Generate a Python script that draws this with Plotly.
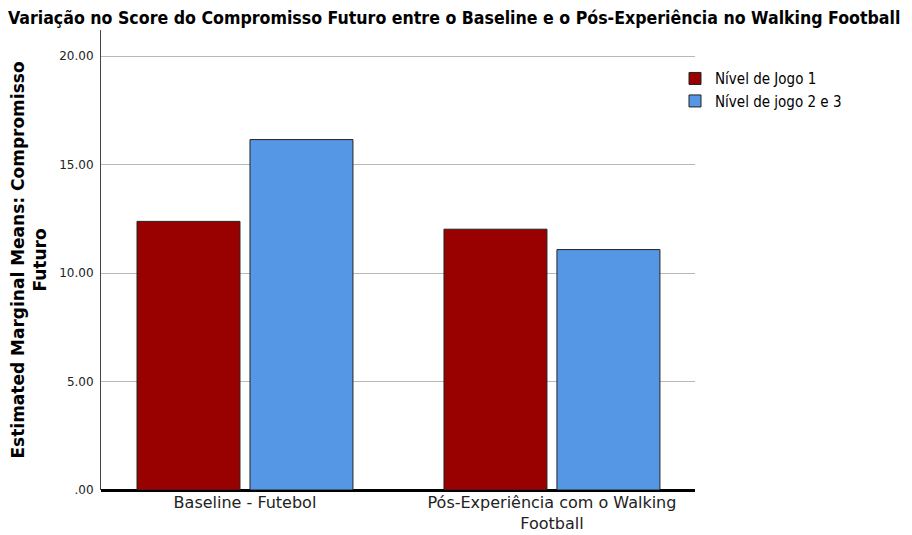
import plotly.graph_objects as go

categories = ["Baseline - Futebol", "Pós-Experiência com o Walking<br>Football"]
series_names = ["Nível de Jogo 1", "Nível de jogo 2 e 3"]
nivel1 = [12.38, 12.02]
nivel23 = [16.15, 11.08]
tick_vals = [0, 5, 10, 15, 20]
tick_text = [".00", "5.00", "10.00", "15.00", "20.00"]
colors = ["#990000", "#5597e5"]

fig = go.Figure()
for name, vals, col in zip(series_names, [nivel1, nivel23], colors):
    fig.add_trace(go.Bar(
        x=categories, y=vals, name=name,
        marker=dict(color=col, line=dict(color="#222222", width=1)),
    ))

# page is drawn with an 8px body margin, so the figure is 904x527
fig.update_layout(
    width=904, height=527,
    margin=dict(l=93, r=217, t=22, b=45, autoexpand=False),
    plot_bgcolor="white", paper_bgcolor="white",
    barmode="group", bargap=0.264, bargroupgap=0.0885,
    font=dict(family="DejaVu Sans", color="#000000"),
    title=dict(
        text="<b>Variação no Score do Compromisso Futuro entre o Baseline e o Pós-Experiência no Walking Football</b>",
        x=0, xanchor="left", xref="container", y=1 - 10 / 527, yref="container", yanchor="middle",
        font=dict(family="DejaVu Sans Condensed", size=17.6, color="#000"),
    ),
    legend=dict(
        x=(675 - 101) / 594, y=0.93, xanchor="left", yanchor="top",
        font=dict(size=15, family="DejaVu Sans Condensed"),
        bgcolor="rgba(0,0,0,0)", itemwidth=30, tracegroupgap=0,
    ),
    showlegend=True,
)
fig.update_xaxes(
    range=[-0.469, 1.466], showgrid=False, showline=False, ticks="",
    automargin=False, ticklabelstandoff=1,
    tickfont=dict(size=16, family="DejaVu Sans", color="#222"),
)
fig.update_yaxes(
    range=[0, 21.2], tickvals=tick_vals, ticktext=tick_text,
    showgrid=True, gridcolor="#b8b8b8", gridwidth=1,
    showline=True, linecolor="#444444", linewidth=1,
    zeroline=True, zerolinecolor="#000000", zerolinewidth=3,
    ticks="", automargin=False, ticklabelstandoff=4,
    tickfont=dict(size=12, family="DejaVu Sans", color="#222"),
    title=dict(text="<b>Estimated Marginal Means: Compromisso<br>Futuro</b>",
               font=dict(size=17, family="DejaVu Sans"), standoff=14),
)
fig.write_html("out.html")
